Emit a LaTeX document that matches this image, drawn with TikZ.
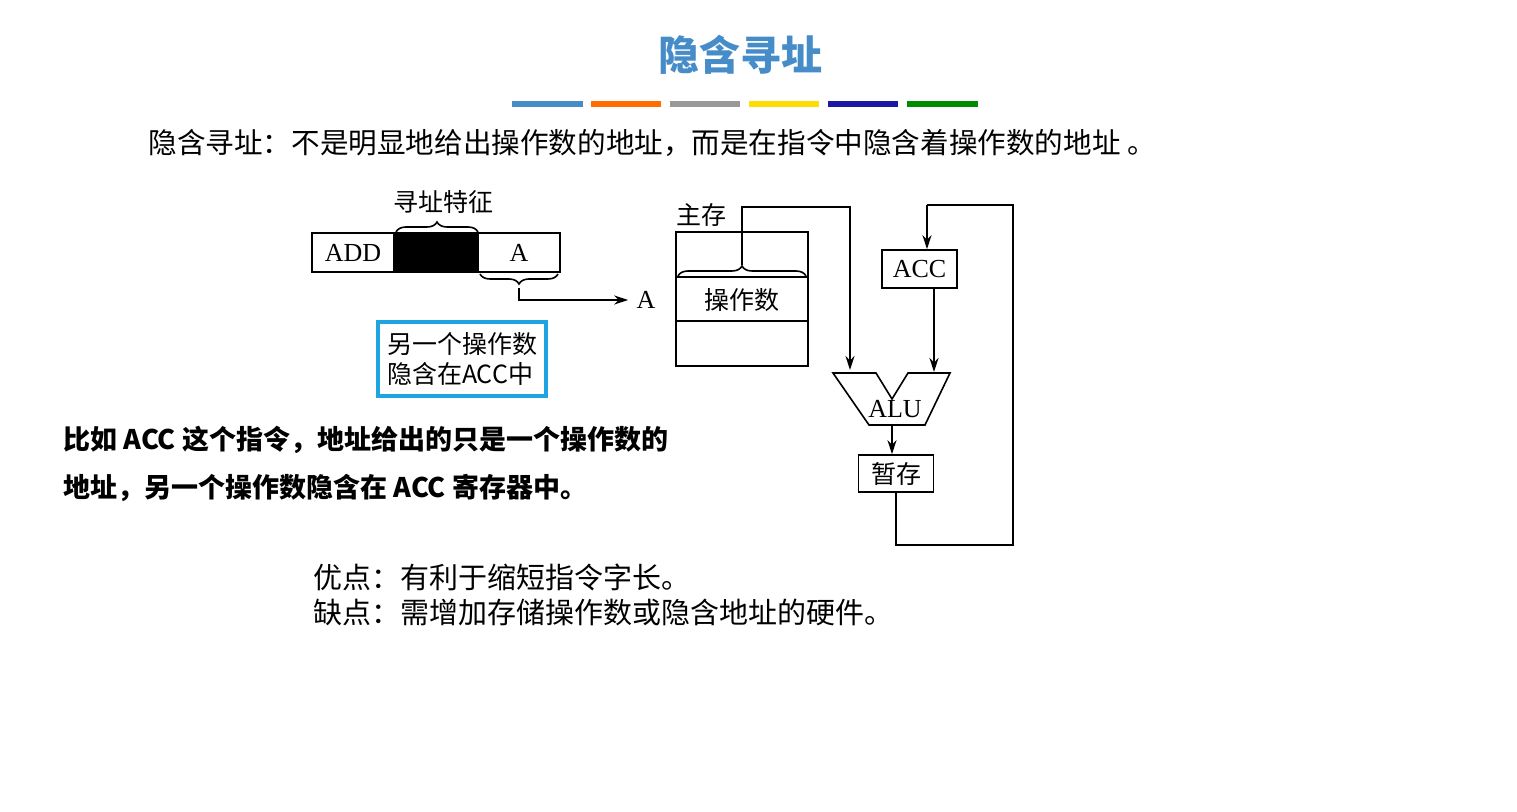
\documentclass[tikz,border=0pt]{standalone}
\usepackage{fontspec}
\setmainfont{Liberation Serif}
\newfontfamily\cjk{Noto Sans CJK SC}
\usetikzlibrary{decorations.pathreplacing,arrows.meta}
\definecolor{ttl}{RGB}{70,140,200}
\definecolor{cyanb}{RGB}{30,165,225}
\begin{document}
\begin{tikzpicture}[x=0.5pt,y=-0.5pt,
  ln/.style={line width=0.8pt},
  arr/.style={ln,-{Stealth[length=7pt,width=4.5pt]}},
  bx/.style={draw,line width=0.8pt,inner sep=0pt},
  lbl/.style={font=\cjk\fontsize{12.5}{14}\selectfont,inner sep=0pt},
  lat/.style={font=\fontsize{13}{14}\selectfont},
  brc/.style={ln,decorate,decoration={brace,amplitude=5pt}}]
\useasboundingbox (0,0) rectangle (1517,812);
\node[font=\cjk\bfseries\fontsize{20.5}{22}\selectfont,text=ttl] (title) at (740,55) {隐含寻址};
\foreach \a/\b/\c in {512/583/ttl,591/661/orange!85!red,670/740/gray!80,749/819/yellow!80!orange,828/898/blue!60!black!90,907/978/green!55!black}
  \fill[\c] (\a,101) rectangle (\b,107);
\node[lbl,anchor=west,font=\cjk\fontsize{14.3}{16}\selectfont] (def) at (148,143) {隐含寻址：不是明显地给出操作数的地址，而是在指令中隐含着操作数的地址 。};
% instruction
\node[bx,lat,minimum width=41pt,minimum height=19.5pt] (add) at (353,252.5) {ADD};
\node[bx,fill=black,minimum width=42pt,minimum height=19.5pt] (blk) at (436,252.5) {};
\node[bx,lat,minimum width=41pt,minimum height=19.5pt] (aa) at (519,252.5) {A};
\draw[brc] (396,232) -- (478,232);
\node[lbl] (feat) at (443,202) {寻址特征};
\draw[brc] (558,274) -- (480,274);
\coordinate (bt) at (519,288);
\node[lat,inner sep=0pt] (A2) at (646,300) {A};
\draw[arr] (bt) |- ([xshift=-4pt]A2.west);
\node[draw=cyanb,line width=2pt,minimum width=84pt,minimum height=37pt,align=left,font=\cjk\fontsize{12.5}{15}\selectfont,inner sep=1pt] (note) at (462,359) {另一个操作数\\隐含在ACC中};
% memory
\draw[ln] (676,232) rectangle (808,366);
\draw[ln] (676,277) -- (808,277);
\draw[ln] (676,321) -- (808,321);
\draw[brc] (678,276) -- (806,276);
\coordinate (mt) at (742,265);
\node[lbl] (opd) at (742,300) {操作数};
\node[lbl] (mm) at (701,215) {主存};
% ACC
\node[bx,lat,minimum width=37.5pt,minimum height=19pt] (acc) at (919.5,269) {ACC};
% ALU
\draw[ln] (833,373) -- (876,373) -- (892,399) -- (908,373) -- (950,373) -- (925,425) -- (869,425) -- cycle;
\node[lat,inner sep=0pt] (alu) at (895,409) {ALU};
\coordinate (alub) at (892,425);
\node[bx,minimum width=37.5pt,minimum height=18.5pt,font=\cjk\fontsize{12.5}{14}\selectfont] (tmp) at (896,473.5) {暂存};
\draw[arr] (mt) |- (850,207) -- (850,370);
\draw[arr] (934,288) -- (934,372);
\draw[arr] (alub) -- (tmp.north -| alub);
\draw[ln] (tmp.south) -- (896,545) -- (1013,545) -- (1013,205) -- (927,205);
\draw[arr] (927,205) -- (acc.north -| 927,0);
% left bold text
\node[anchor=west,font=\cjk\bfseries\fontsize{13.5}{24}\selectfont,inner sep=0pt,align=left] (ex) at (63,464) {比如 ACC 这个指令，地址给出的只是一个操作数的\\地址，另一个操作数隐含在 ACC 寄存器中。};
\node[anchor=west,font=\cjk\fontsize{14.5}{17.5}\selectfont,inner sep=0pt,align=left] (pc) at (313,595) {优点：有利于缩短指令字长。\\缺点：需增加存储操作数或隐含地址的硬件。};
\end{tikzpicture}
\end{document}
